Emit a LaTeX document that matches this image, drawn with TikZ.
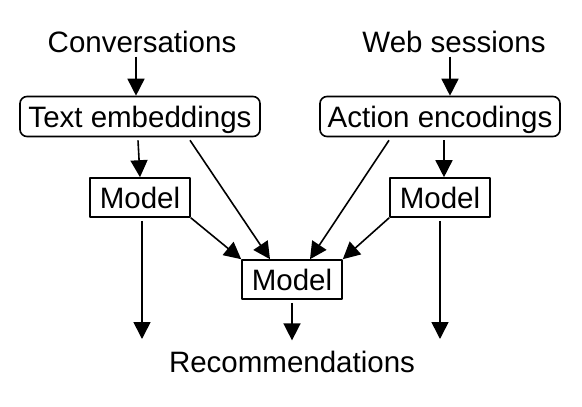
\documentclass[tikz,border=0pt]{standalone}
\usepackage{fontspec}
\setmainfont{Liberation Sans}
\usetikzlibrary{arrows.meta}
\begin{document}
\begin{tikzpicture}[x=1pt, y=-1pt, line width=1.6pt, line join=round, >={Triangle[width=17pt,length=17pt]}, font=\fontsize{29.5}{35}\selectfont,
  lbl/.style={inner sep=3pt},
  embbox/.style={draw, rounded corners=7pt, minimum width=240pt, minimum height=40pt, inner sep=0pt, text height=22pt, text depth=0pt},
  modelbox/.style={draw, minimum width=100pt, minimum height=39pt, inner sep=0pt, text height=22pt, text depth=0pt}]
\useasboundingbox (0,0) rectangle (582,407);
\node[lbl] (conv) at (142,42) {Conversations}; \node[lbl] (web) at (454,42) {Web sessions};
\node[embbox] (emb) at (140,116.5) {Text embeddings}; \node[embbox] (act) at (440,116.5) {Action encodings};
\node[modelbox] (mleft) at (140,197.5) {Model}; \node[modelbox] (mright) at (440,197.5) {Model};
\node[modelbox] (mmid) at (292,279.5) {Model};
\node[lbl] (rec) at (292,362) {Recommendations};
\coordinate (endl) at (142,339); \coordinate (endr) at (440,339);
% inputs
\draw[->] ([xshift=-6pt]conv.south) -- ([xshift=-4pt]emb.north);
\draw[->] ([xshift=-4pt]web.south) -- ([xshift=10pt]act.north);
\draw[->] ([xshift=-2pt,yshift=-3pt]emb.south) -- (mleft.north);
\draw[->] ([xshift=4pt,yshift=-3pt]act.south) -- ([xshift=4pt]mright.north);
% into the joint model
\draw[->] ([xshift=50pt,yshift=-3pt]emb.south) -- ([xshift=-22pt]mmid.north);
\draw[->] ([xshift=-51pt,yshift=-3pt]act.south) -- ([xshift=18pt]mmid.north);
\draw[->] (mleft.south east) -- (mmid.north west);
\draw[->] (mright.south west) -- (mmid.north east);
% outputs
\draw[->] ([xshift=2pt,yshift=-3pt]mleft.south) -- (endl);
\draw[->] ([yshift=-3pt]mright.south) -- (endr);
\draw[->] ([yshift=-3pt]mmid.south) -- ([yshift=7pt]rec.north);
\end{tikzpicture}
\end{document}
